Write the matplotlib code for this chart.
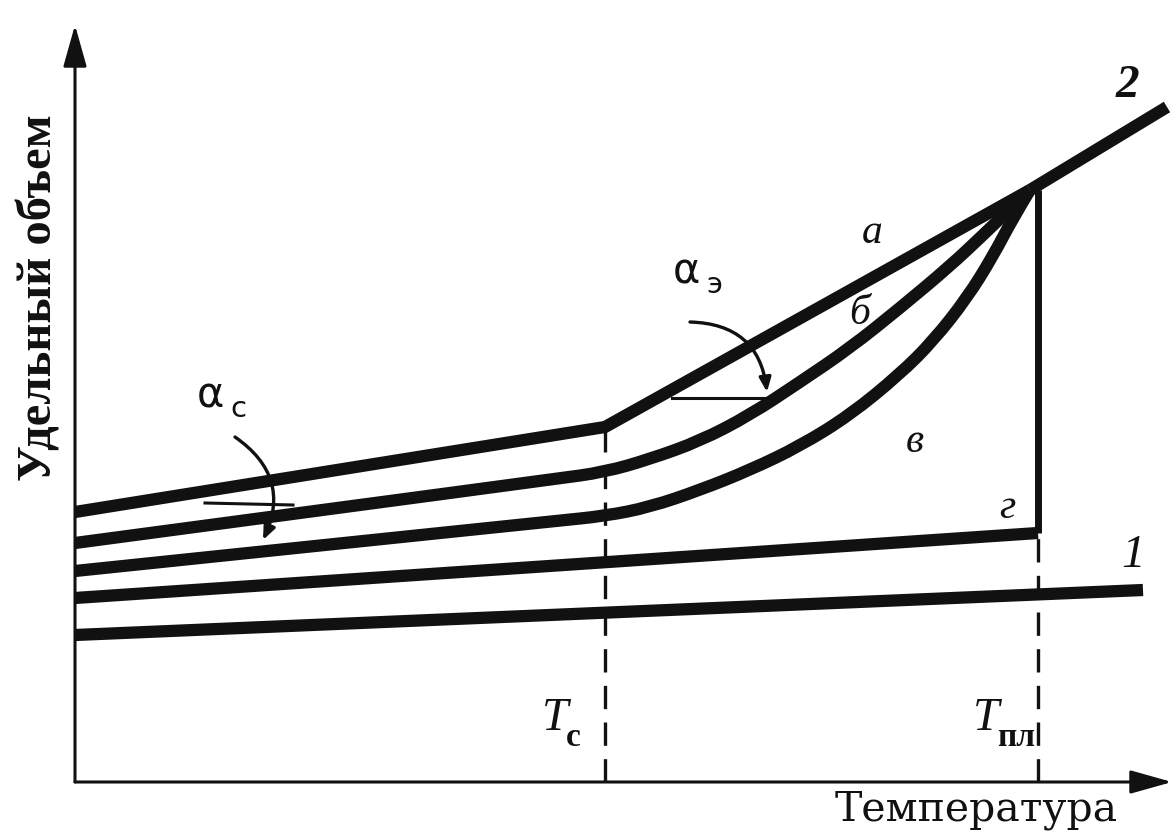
import numpy as np
import matplotlib.pyplot as plt
from matplotlib.path import Path
from matplotlib.patches import PathPatch


# Temperatures caractéristiques (unités arbitraires du schéma)
T_c = 530
T_pl = 963

# Ligne du verre (partie basse de la courbe "а")
glass_T = [0, 530]
glass_V = [270, 355]

# Courbe "а" jusqu'au point de fusion
a_T = [530, 955]
a_V = [355, 592]

# Ligne 2 (fondu)
line2_T = [955, 1092]
line2_V = [592, 675]

# Courbe "б"
b_T = [0, 480, 530, 575, 625, 675, 725, 775, 825, 875, 908, 935, 955]
b_V = [239, 303, 310, 323, 341, 367, 400, 434, 474, 516, 547, 573, 592]

# Courbe "в"
v_T = [0, 480, 530, 575, 625, 675, 725, 775, 825, 858, 892, 918, 938, 955]
v_V = [211, 261, 266, 275, 292, 312, 336, 367, 408, 441, 484, 526, 564, 592]

# Courbe "г"
g_T = [0, 963, 963]
g_V = [184, 249, 592]

# Ligne 1 (cristal)
line1_T = [0, 1068]
line1_V = [147, 192]


def smooth_path(xs, ys):
    # Courbe lissée : les points lus servent de points de contrôle
    pts = list(zip(xs, ys))
    verts = [pts[0]]
    codes = [Path.MOVETO]
    for i in range(1, len(pts) - 1):
        mid = ((pts[i][0] + pts[i + 1][0]) / 2, (pts[i][1] + pts[i + 1][1]) / 2)
        if i == len(pts) - 2:
            mid = pts[-1]
        verts += [pts[i], mid]
        codes += [Path.CURVE3, Path.CURVE3]
    return Path(verts, codes)


plt.rcParams["font.family"] = ["Liberation Serif", "DejaVu Serif"]

fig = plt.figure(figsize=(11.75, 8.36), dpi=100)
ax = fig.add_axes([0, 0, 1, 1])
ax.set_xlim(-75, 1100)
ax.set_ylim(-54, 782)
ax.axis("off")

ink = "#111111"
thick = 8.8

# Axes avec flèches
for tip in [(0, 757), (1097, 0)]:
    ax.annotate(
        "",
        xy=tip,
        xytext=(0, 0),
        arrowprops=dict(arrowstyle="-|>,head_length=1.6,head_width=0.45",
                        mutation_scale=16, lw=2.2, color=ink,
                        shrinkA=0, shrinkB=0)
    )

# Lignes pointillées verticales
ax.plot([T_c, T_c], [0, 355], color=ink, lw=2.4, dashes=(7, 4))
ax.plot([T_pl, T_pl], [0, 249], color=ink, lw=2.4, dashes=(7, 4))

# Courbes
ax.plot(line1_T, line1_V, color=ink, lw=thick, solid_capstyle="butt")
ax.plot(g_T[:2], g_V[:2], color=ink, lw=thick, solid_capstyle="butt")
ax.plot(g_T[1:], g_V[1:], color=ink, lw=5, solid_capstyle="butt")

for xs, ys in [(v_T, v_V), (b_T, b_V)]:
    ax.add_patch(PathPatch(smooth_path(xs, ys), fill=False, edgecolor=ink,
                           lw=thick, capstyle="butt", joinstyle="round"))

ax.plot(glass_T + a_T[1:], glass_V + a_V[1:], color=ink, lw=thick,
        solid_joinstyle="miter", solid_capstyle="butt")
ax.plot(line2_T, line2_V, color=ink, lw=thick, solid_capstyle="butt")

# Angles alpha
ax.plot([130, 218], [279, 277], color=ink, lw=2.2)
ax.plot([597, 695], [384, 384], color=ink, lw=2.2)

ax.annotate(
    "",
    xy=(188, 242),
    xytext=(160, 345),
    arrowprops=dict(arrowstyle="-|>,head_length=0.6,head_width=0.25",
                    mutation_scale=14, lw=2.4, color=ink,
                    connectionstyle="arc3,rad=-0.42", shrinkA=0, shrinkB=0)
)
ax.annotate(
    "",
    xy=(692, 390),
    xytext=(615, 460),
    arrowprops=dict(arrowstyle="-|>,head_length=0.6,head_width=0.25",
                    mutation_scale=14, lw=2.4, color=ink,
                    connectionstyle="arc3,rad=-0.43", shrinkA=0, shrinkB=0)
)

greek = dict(ha="center", va="center", color=ink, family=["DejaVu Sans"])
ax.text(135, 386, "α", fontsize=30, **greek)
ax.text(163, 373, "с", fontsize=21, **greek)
ax.text(611, 511, "α", fontsize=30, **greek)
ax.text(639, 497, "э", fontsize=21, **greek)

# Étiquettes des courbes
label_style = dict(fontsize=30, style="italic", ha="center", va="center",
                   color=ink)
ax.text(797, 549, "а", **label_style)
ax.text(785, 468, "б", **label_style)
ax.text(840, 340, "в", **label_style)
ax.text(932, 274, "г", **label_style)
ax.text(1052, 696, "2", fontsize=34, style="italic", weight="bold",
        ha="center", va="center", color=ink)
ax.text(1058, 226, "1", fontsize=34, style="italic", ha="center",
        va="center", color=ink)

# Températures
ax.text(480, 63, "T", fontsize=34, style="italic", ha="center",
        va="center", color=ink)
ax.text(498, 44, "с", fontsize=24, weight="bold", ha="center",
        va="center", color=ink)
ax.text(911, 63, "T", fontsize=34, style="italic", ha="center",
        va="center", color=ink)
ax.text(941, 44, "пл", fontsize=24, weight="bold", ha="center",
        va="center", color=ink)

# Titres des axes
ax.text(901, -28, "Температура", fontsize=29.5, ha="center", va="center",
        color=ink, family=["DejaVu Serif"])
ax.text(-35, 484, "Удельный объем", fontsize=35, weight="bold",
        rotation=90, ha="center", va="center", color=ink)

plt.savefig("out.png", dpi=100)
plt.close()
